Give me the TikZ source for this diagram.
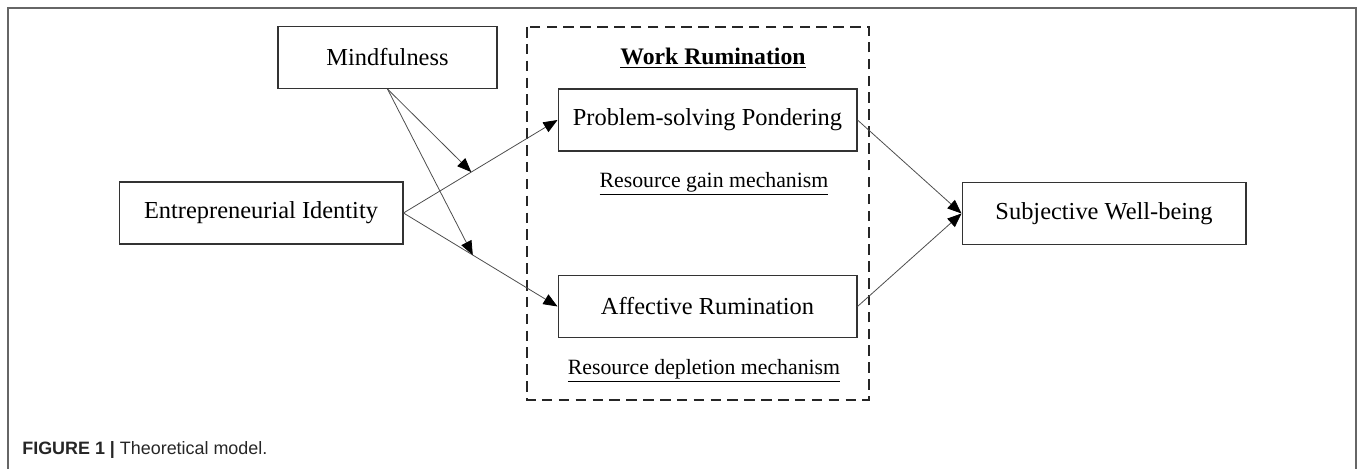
\documentclass[tikz,border=0pt]{standalone}
\usepackage{fontspec}
\setmainfont{Liberation Serif}
\newfontfamily\capsans{Liberation Sans}
\usetikzlibrary{arrows.meta}

\newcommand\boxfont{\fontsize{13.9}{16}\selectfont}
\newcommand\notefont{\fontsize{12.4}{15}\selectfont}

\begin{document}
\begin{tikzpicture}[x=0.02cm,y=-0.02cm,
  box/.style={draw=black!80,line width=0.6pt,inner sep=0pt,
    minimum height=1.24cm,font=\boxfont},
  note/.style={inner sep=0pt,font=\notefont},
  arr/.style={draw=black!70,line width=0.45pt,
    -{Triangle[length=8pt,width=6.4pt,color=black,fill=black]}}]
\useasboundingbox (0,0) rectangle (1357,469);
\draw[black!60,line width=0.8pt](8,469)--(8,8)--(1356,8)--(1356,469);

\draw[black!85,line width=0.8pt,dash pattern=on 6pt off 3.6pt](527,27) rectangle (869,400);

\node[box,minimum width=4.38cm] (mind) at (387.5,57.5) {Mindfulness};
\node[box,minimum width=5.68cm] (ident) at (261,213) {Entrepreneurial Identity};
\node[box,minimum width=5.98cm] (ponder) at (707.5,120) {Problem-solving Pondering};
\node[box,minimum width=5.98cm] (affect) at (707.5,306.5) {Affective Rumination};
\node[box,minimum width=5.68cm] (wellb) at (1104,213.5) {Subjective Well-being};

\node[note,font=\fontsize{13.5}{16}\selectfont\bfseries] (rumin) at (713,58) {\underline{Work Rumination}};
\node[note] (gain) at (714,184) {\underline{Resource gain mechanism}};
\node[note] (deplete) at (704,371) {\underline{Resource depletion mechanism}};

\draw[arr] (ident.east) -- coordinate[pos=0.44] (hitgain) (ponder.west);
\draw[arr] (ident.east) -- coordinate[pos=0.45] (hitloss) (affect.west);
\draw[arr] (mind.south) -- (hitgain);
\draw[arr] (mind.south) -- (hitloss);
\draw[arr] (ponder.east) -- (wellb.west);
\draw[arr] (affect.east) -- (wellb.west);

\node[anchor=west,inner sep=0pt,text=black!85,font=\capsans\fontsize{10.2}{12}\selectfont] (cap) at (22,450) {\textbf{FIGURE 1 |} Theoretical model.};
\end{tikzpicture}
\end{document}
